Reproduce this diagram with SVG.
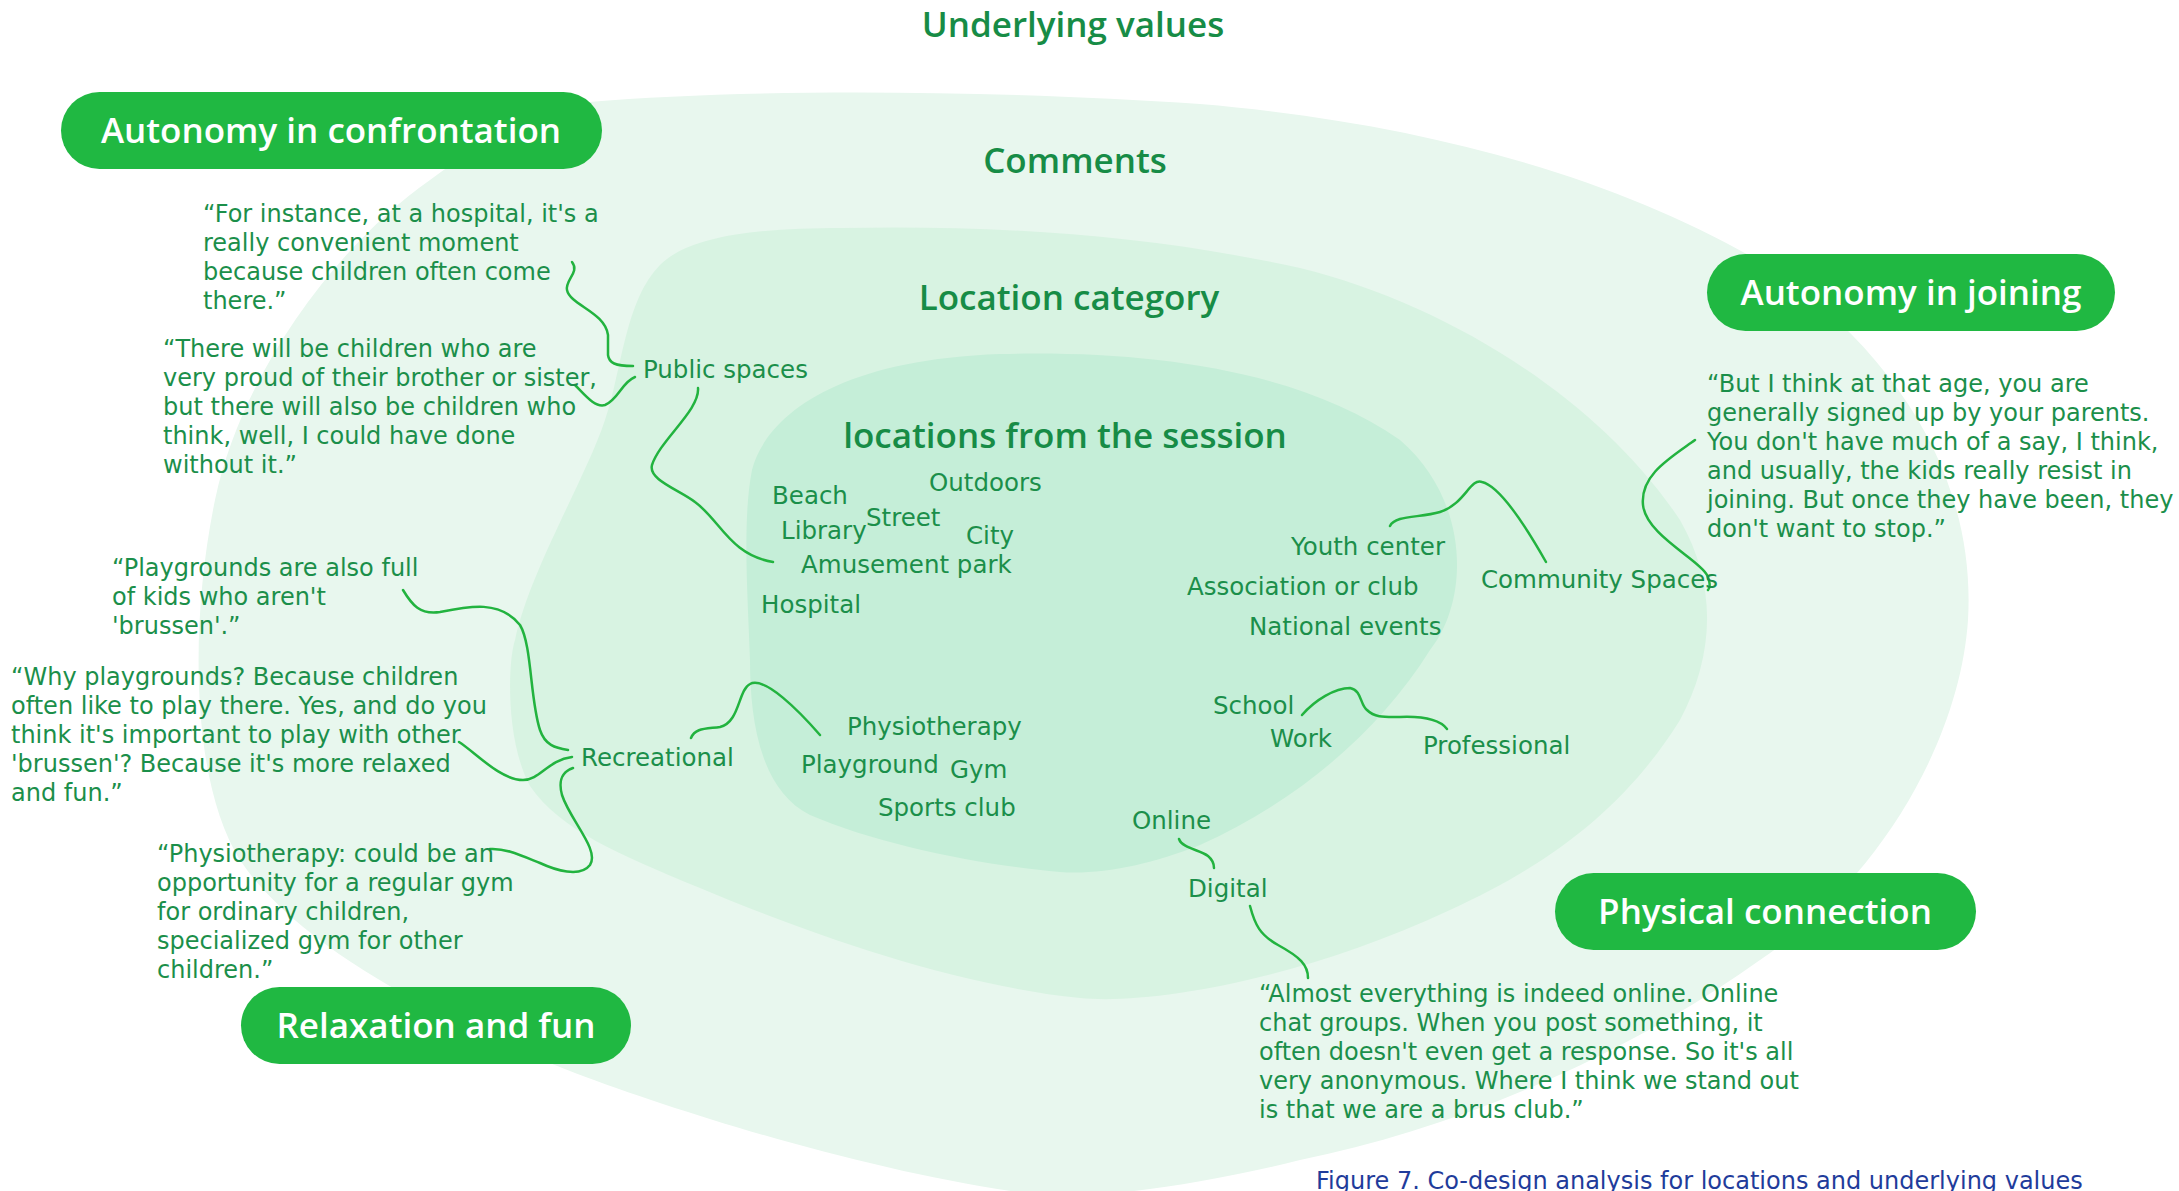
<svg xmlns="http://www.w3.org/2000/svg" width="2179" height="1191" viewBox="0 0 2179 1191">
<style>
.h{font-family:"Open Sans","Liberation Sans",sans-serif;font-weight:600;font-size:35px;fill:#178c46;text-anchor:middle}
.pill rect{fill:#20b842}
.pill text{font-family:"Open Sans","Liberation Sans",sans-serif;font-weight:600;font-size:35px;fill:#ffffff;text-anchor:middle}
.q{font-family:"DejaVu Sans","Liberation Sans",sans-serif;font-size:24px;fill:#1b8f4a}
.lbl{font-family:"DejaVu Sans","Liberation Sans",sans-serif;font-size:24.5px;fill:#1b8f4a}
.cap{font-family:"DejaVu Sans","Liberation Sans",sans-serif;font-size:24px;fill:#1f3c9b}
#connectors path{fill:none;stroke:#22b33f;stroke-width:2.5;stroke-linecap:round}
</style>
<rect width="2179" height="1191" fill="#ffffff"/>
<g id="layers">
<path id="layer-comments" fill="#e8f7ee" d="M589,102 C750,88 1000,90 1200,104 C1450,125 1650,190 1790,280 C1920,380 1975,500 1968,620 C1960,740 1880,880 1760,960 C1620,1060 1450,1130 1300,1160 C1200,1185 1100,1198 1050,1196 C900,1180 700,1120 575,1073 C450,1025 300,950 240,860 C190,780 190,620 215,500 C240,380 330,250 430,180 C490,135 540,108 589,102 Z"/>
<path id="layer-category" fill="#d8f3e2" d="M842,228 C1000,225 1150,235 1300,268 C1450,305 1600,400 1680,520 C1720,590 1712,660 1680,720 C1630,800 1560,860 1450,910 C1300,980 1150,1005 1080,998 C950,985 800,930 700,888 C620,855 560,830 530,786 C505,740 508,660 515,640 C530,570 585,480 605,420 C622,370 625,300 660,265 C690,235 760,228 842,228 Z"/>
<path id="layer-session" fill="#c5eed8" d="M1000,354 C1150,350 1300,370 1400,440 C1470,500 1470,600 1430,650 C1380,730 1300,800 1200,845 C1150,865 1100,875 1060,872 C980,865 880,845 810,815 C760,790 750,720 750,660 C748,600 742,520 752,470 C765,420 830,360 1000,354 Z"/>
</g>
<g id="headings">
<text class="h" x="1073" y="37">Underlying values</text>
<text class="h" x="1075" y="173">Comments</text>
<text class="h" x="1069" y="310">Location category</text>
<text class="h" x="1065" y="448">locations from the session</text>
</g>
<g id="connectors">
<path d="M572,262 C580,272 565,280 567,290 C570,305 605,312 608,335 L608,355 C609,363 615,366 633,366"/>
<path d="M635,377 C622,382 618,400 605,405 C595,408 585,395 575,385"/>
<path d="M698,388 C700,410 660,440 652,465 C648,480 680,490 695,502 C720,520 730,555 773,562"/>
<path d="M403,590 C412,605 420,615 440,612 C470,606 500,600 520,625 C532,645 530,700 540,730 C545,745 555,748 568,750"/>
<path d="M459,742 C475,752 500,780 523,780 C540,780 548,760 572,757"/>
<path d="M573,768 C562,772 558,780 562,795 C570,820 600,850 590,865 C580,878 555,870 540,863 C520,855 505,848 490,849"/>
<path d="M691,738 C695,728 705,729 720,727 C740,722 738,690 750,684 C765,676 800,712 820,735"/>
<path d="M1390,526 C1395,515 1420,518 1440,512 C1465,504 1470,478 1482,482 C1500,486 1525,525 1546,562"/>
<path d="M1695,440 C1670,458 1640,475 1643,505 C1646,535 1700,560 1707,575 C1710,582 1711,587 1708,590"/>
<path d="M1302,715 C1315,700 1335,688 1350,688 C1362,690 1360,705 1367,710 C1375,718 1385,717 1400,717 C1425,716 1440,720 1447,729"/>
<path d="M1179,839 C1182,848 1200,850 1208,856 C1214,861 1214,865 1214,868"/>
<path d="M1250,906 C1255,925 1260,935 1278,945 C1300,957 1308,965 1308,978"/>
</g>
<g id="value-autonomy-confrontation" class="pill"><rect x="61" y="92" width="541" height="77" rx="38.5"/><text x="331" y="143">Autonomy in confrontation</text></g>
<g id="value-autonomy-joining" class="pill"><rect x="1707" y="254" width="408" height="77" rx="38.5"/><text x="1911" y="305">Autonomy in joining</text></g>
<g id="value-physical-connection" class="pill"><rect x="1555" y="873" width="421" height="77" rx="38.5"/><text x="1765" y="924">Physical connection</text></g>
<g id="value-relaxation-fun" class="pill"><rect x="241" y="987" width="390" height="77" rx="38.5"/><text x="436" y="1038">Relaxation and fun</text></g>
<g id="quote-hospital"><text class="q" x="203" y="222"><tspan x="203">“For instance, at a hospital, it's a</tspan><tspan x="203" dy="29">really convenient moment</tspan><tspan x="203" dy="29">because children often come</tspan><tspan x="203" dy="29">there.”</tspan></text></g>
<g id="quote-proud"><text class="q" x="163" y="357"><tspan x="163">“There will be children who are</tspan><tspan x="163" dy="29">very proud of their brother or sister,</tspan><tspan x="163" dy="29">but there will also be children who</tspan><tspan x="163" dy="29">think, well, I could have done</tspan><tspan x="163" dy="29">without it.”</tspan></text></g>
<g id="quote-playgrounds-full"><text class="q" x="112" y="576"><tspan x="112">“Playgrounds are also full</tspan><tspan x="112" dy="29">of kids who aren't</tspan><tspan x="112" dy="29">'brussen'.”</tspan></text></g>
<g id="quote-why-playgrounds"><text class="q" x="11" y="685"><tspan x="11">“Why playgrounds? Because children</tspan><tspan x="11" dy="29">often like to play there. Yes, and do you</tspan><tspan x="11" dy="29">think it's important to play with other</tspan><tspan x="11" dy="29">'brussen'? Because it's more relaxed</tspan><tspan x="11" dy="29">and fun.”</tspan></text></g>
<g id="quote-physiotherapy"><text class="q" x="157" y="862"><tspan x="157">“Physiotherapy: could be an</tspan><tspan x="157" dy="29">opportunity for a regular gym</tspan><tspan x="157" dy="29">for ordinary children,</tspan><tspan x="157" dy="29">specialized gym for other</tspan><tspan x="157" dy="29">children.”</tspan></text></g>
<g id="quote-joining"><text class="q" x="1707" y="392"><tspan x="1707">“But I think at that age, you are</tspan><tspan x="1707" dy="29">generally signed up by your parents.</tspan><tspan x="1707" dy="29">You don't have much of a say, I think,</tspan><tspan x="1707" dy="29">and usually, the kids really resist in</tspan><tspan x="1707" dy="29">joining. But once they have been, they</tspan><tspan x="1707" dy="29">don't want to stop.”</tspan></text></g>
<g id="quote-online"><text class="q" x="1259" y="1002"><tspan x="1259">“Almost everything is indeed online. Online</tspan><tspan x="1259" dy="29">chat groups. When you post something, it</tspan><tspan x="1259" dy="29">often doesn't even get a response. So it's all</tspan><tspan x="1259" dy="29">very anonymous. Where I think we stand out</tspan><tspan x="1259" dy="29">is that we are a brus club.”</tspan></text></g>
<g id="cat-public-spaces"><text class="lbl" x="643" y="378">Public spaces</text></g>
<g id="cat-recreational"><text class="lbl" x="581" y="766">Recreational</text></g>
<g id="cat-community-spaces"><text class="lbl" x="1481" y="588">Community Spaces</text></g>
<g id="cat-professional"><text class="lbl" x="1423" y="754">Professional</text></g>
<g id="cat-digital"><text class="lbl" x="1188" y="897">Digital</text></g>
<g id="loc-beach"><text class="lbl" x="772" y="504">Beach</text></g>
<g id="loc-outdoors"><text class="lbl" x="929" y="491">Outdoors</text></g>
<g id="loc-library"><text class="lbl" x="781" y="539">Library</text></g>
<g id="loc-street"><text class="lbl" x="866" y="526">Street</text></g>
<g id="loc-city"><text class="lbl" x="966" y="544">City</text></g>
<g id="loc-amusement-park"><text class="lbl" x="801" y="573">Amusement park</text></g>
<g id="loc-hospital"><text class="lbl" x="761" y="613">Hospital</text></g>
<g id="loc-physiotherapy"><text class="lbl" x="847" y="735">Physiotherapy</text></g>
<g id="loc-playground"><text class="lbl" x="801" y="773">Playground</text></g>
<g id="loc-gym"><text class="lbl" x="950" y="778">Gym</text></g>
<g id="loc-sports-club"><text class="lbl" x="878" y="816">Sports club</text></g>
<g id="loc-youth-center"><text class="lbl" x="1291" y="555">Youth center</text></g>
<g id="loc-association"><text class="lbl" x="1187" y="595">Association or club</text></g>
<g id="loc-national-events"><text class="lbl" x="1249" y="635">National events</text></g>
<g id="loc-school"><text class="lbl" x="1213" y="714">School</text></g>
<g id="loc-work"><text class="lbl" x="1270" y="747">Work</text></g>
<g id="loc-online"><text class="lbl" x="1132" y="829">Online</text></g>
<g id="caption"><text class="cap" x="1316" y="1189">Figure 7. Co-design analysis for locations and underlying values</text></g>
</svg>
